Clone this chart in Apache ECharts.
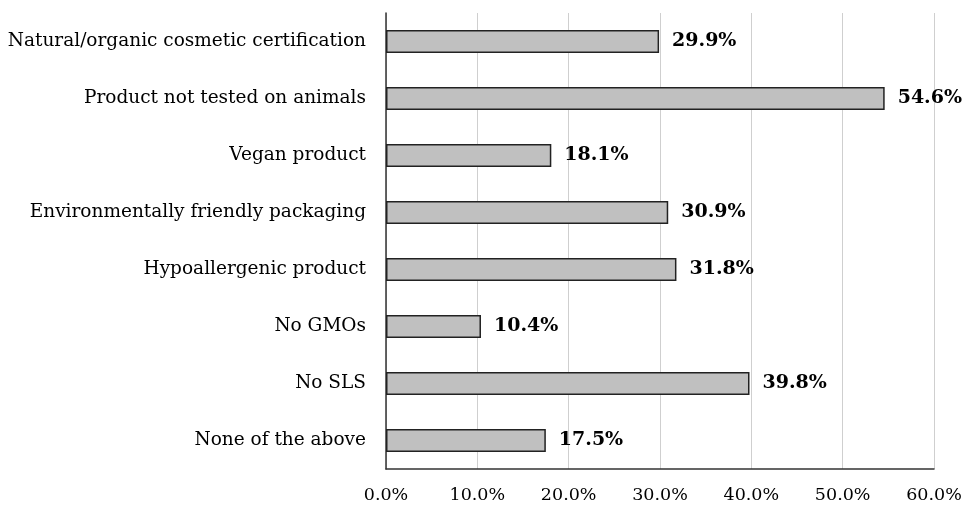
<!DOCTYPE html>
<html><head><meta charset="utf-8">
<script src="https://cdn.jsdelivr.net/npm/echarts@6/dist/echarts.min.js"></script>
<style>html,body{margin:0;padding:0;background:#fff}#c{width:966px;height:505px}</style>
</head><body><div id="c"></div>
<script>
const categories = ["Natural/organic cosmetic certification","Product not tested on animals","Vegan product","Environmentally friendly packaging","Hypoallergenic product","No GMOs","No SLS","None of the above"];
const values = [29.9, 54.6, 18.1, 30.9, 31.8, 10.4, 39.8, 17.5];
const xTicks = [0, 10, 20, 30, 40, 50, 60];
const FONT = "DejaVu Serif";
const chart = echarts.init(document.getElementById('c'));
chart.setOption({
  animation: false,
  grid: {left: 386, right: 32, top: 13, bottom: 36, containLabel: false},
  xAxis: {
    type: 'value', min: xTicks[0], max: xTicks[xTicks.length-1], interval: 10,
    axisLine: {show: true, lineStyle: {color: '#333', width: 1.5}},
    axisTick: {show: false},
    splitLine: {show: true, lineStyle: {color: '#cfcfcf', width: 1}},
    axisLabel: {formatter: v => v.toFixed(1) + '%', color: '#000', fontFamily: FONT, fontSize: 17.5, margin: 17}
  },
  yAxis: {
    type: 'category', data: categories, inverse: true,
    axisLine: {show: true, lineStyle: {color: '#333', width: 1.5}},
    axisTick: {show: false},
    axisLabel: {color: '#000', fontFamily: FONT, fontSize: 18.5, margin: 20}
  },
  series: [{
    type: 'bar', data: values, barWidth: 23,
    itemStyle: {color: '#c0c0c0', borderColor: '#222', borderWidth: 1.5},
    label: {show: true, position: 'right', distance: 13, formatter: p => p.value.toFixed(1) + '%',
      color: '#000', fontFamily: FONT, fontWeight: 'bold', fontSize: 19}
  }]
});
</script></body></html>
